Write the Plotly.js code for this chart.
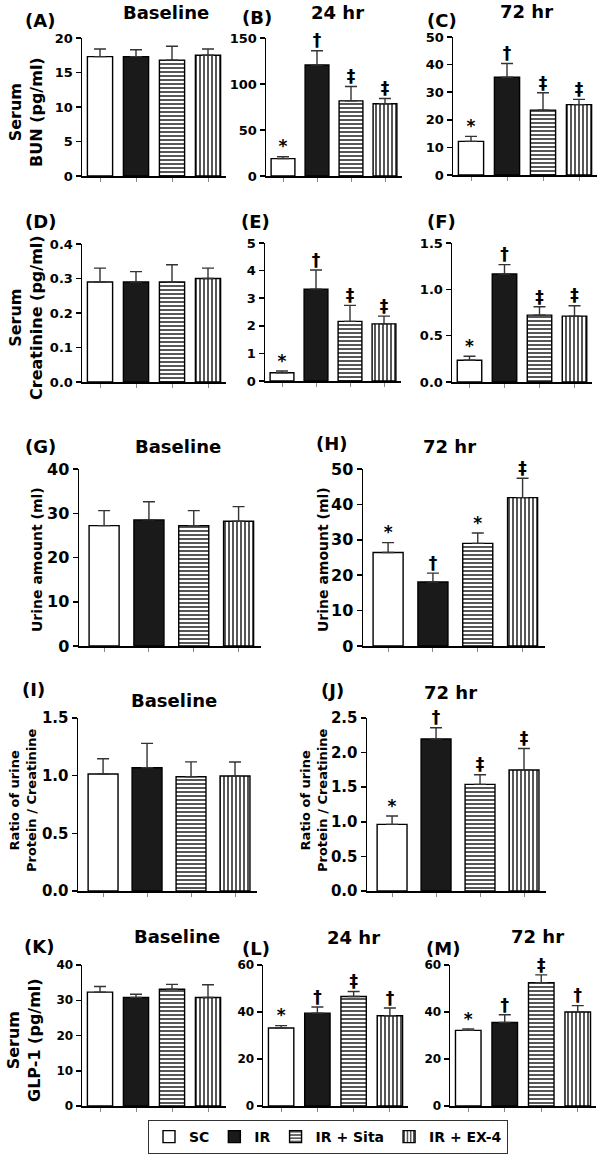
<!DOCTYPE html>
<html>
<head>
<meta charset="utf-8">
<script src="https://cdn.plot.ly/plotly-3.0.1.min.js"></script>
<style>html,body{margin:0;padding:0;background:#fff;}#chart{width:600px;height:1154px;}</style>
</head>
<body>
<div id="chart"></div>
<script>
// ---------- DATA ----------
const groups = ['SC', 'IR', 'IR + Sita', 'IR + EX-4'];

const bunBaseline = [17.3, 17.3, 16.8, 17.5];
const bunBaselineSem = [1.1, 1.0, 2.0, 0.9];
const bun24 = [18.9, 120.6, 81.7, 78.5];
const bun24Sem = [2.1, 15.6, 15.6, 5.8];
const bun72 = [12.2, 35.4, 23.5, 25.5];
const bun72Sem = [1.8, 5.0, 6.3, 1.9];

const creBaseline = [0.29, 0.29, 0.29, 0.30];
const creBaselineSem = [0.04, 0.03, 0.05, 0.03];
const cre24 = [0.30, 3.33, 2.16, 2.07];
const cre24Sem = [0.06, 0.69, 0.58, 0.28];
const cre72 = [0.235, 1.166, 0.722, 0.711];
const cre72Sem = [0.043, 0.101, 0.09, 0.112];

const urineBaseline = [27.2, 28.5, 27.2, 28.2];
const urineBaselineSem = [3.4, 4.1, 3.4, 3.3];
const urine72 = [26.4, 18.1, 29.0, 41.9];
const urine72Sem = [2.8, 2.5, 2.9, 5.5];

const ratioBaseline = [1.014, 1.069, 0.99, 0.997];
const ratioBaselineSem = [0.133, 0.211, 0.13, 0.121];
const ratio72 = [0.963, 2.197, 1.541, 1.749];
const ratio72Sem = [0.121, 0.163, 0.139, 0.311];

const glpBaseline = [32.3, 30.8, 33.1, 30.8];
const glpBaselineSem = [1.6, 0.9, 1.4, 3.6];
const glp24 = [33.2, 39.5, 46.6, 38.4];
const glp24Sem = [1.0, 2.6, 2.1, 3.3];
const glp72 = [32.2, 35.5, 52.5, 40.0];
const glp72Sem = [0.6, 3.3, 3.3, 2.7];

const symNone = ['', '', '', ''];
const symStd = ['*', '\u2020', '\u2021', '\u2021'];
const symUrine72 = ['*', '\u2020', '*', '\u2021'];
const symGlp = ['*', '\u2020', '\u2021', '\u2020'];

// ---------- LAYOUT HELPERS ----------
const W = 600, H = 1154;
const px = x => x / W;
const py = y => 1 - y / H;
const FONT = 'DejaVu Sans';

// panel placement (pixels) and axis setup
const panels = [
  {lab:'(A)', title:'Baseline', mean:bunBaseline, sem:bunBaselineSem, sym:symNone, x:[82,226], y:[38,176], range:[0,20], dtick:5, fmt:'', xr:[-0.5,3.5], tfs:13, bw:0.7},
  {lab:'(B)', title:'24 hr', mean:bun24, sem:bun24Sem, sym:symStd, x:[266,402], y:[38,176], range:[0,150], dtick:50, fmt:'', xr:[-0.5,3.5], tfs:13, bw:0.7},
  {lab:'(C)', title:'72 hr', mean:bun72, sem:bun72Sem, sym:symStd, x:[453,597], y:[37,175], range:[0,50], dtick:10, fmt:'', xr:[-0.5,3.5], tfs:13, bw:0.7},
  {lab:'(D)', title:'', mean:creBaseline, sem:creBaselineSem, sym:symNone, x:[82,226], y:[244,382], range:[0,0.4], dtick:0.1, fmt:'.1f', xr:[-0.5,3.5], tfs:13, bw:0.7},
  {lab:'(E)', title:'', mean:cre24, sem:cre24Sem, sym:symStd, x:[265,401], y:[243,381], range:[0,5], dtick:1, fmt:'', xr:[-0.5,3.5], tfs:13, bw:0.7},
  {lab:'(F)', title:'', mean:cre72, sem:cre72Sem, sym:symStd, x:[452,592], y:[243,382], range:[0,1.5], dtick:0.5, fmt:'.1f', xr:[-0.5,3.5], tfs:13, bw:0.7},
  {lab:'(G)', title:'Baseline', mean:urineBaseline, sem:urineBaselineSem, sym:symNone, x:[79,261], y:[469,646], range:[0,40], dtick:10, fmt:'', xr:[-0.56,3.5], tfs:16, bw:0.67},
  {lab:'(H)', title:'72 hr', mean:urine72, sem:urine72Sem, sym:symUrine72, x:[363,545], y:[469,646], range:[0,50], dtick:10, fmt:'', xr:[-0.56,3.5], tfs:16, bw:0.67},
  {lab:'(I)', title:'Baseline', mean:ratioBaseline, sem:ratioBaselineSem, sym:symNone, x:[78,257], y:[718,891], range:[0,1.5], dtick:0.5, fmt:'.1f', xr:[-0.57,3.5], tfs:15, bw:0.68},
  {lab:'(J)', title:'72 hr', mean:ratio72, sem:ratio72Sem, sym:symStd, x:[367,546], y:[718,891], range:[0,2.5], dtick:0.5, fmt:'.1f', xr:[-0.57,3.5], tfs:15, bw:0.68},
  {lab:'(K)', title:'Baseline', mean:glpBaseline, sem:glpBaselineSem, sym:symNone, x:[82,226], y:[965,1106], range:[0,40], dtick:10, fmt:'', xr:[-0.5,3.5], tfs:12, bw:0.7},
  {lab:'(L)', title:'24 hr', mean:glp24, sem:glp24Sem, sym:symGlp, x:[263,408], y:[965,1106], range:[0,60], dtick:20, fmt:'', xr:[-0.5,3.5], tfs:12, bw:0.7},
  {lab:'(M)', title:'72 hr', mean:glp72, sem:glp72Sem, sym:symGlp, x:[450,596], y:[965,1106], range:[0,60], dtick:20, fmt:'', xr:[-0.5,3.5], tfs:12, bw:0.7}
];

// label / title positions (pixels)
const labelPos = [[40,21],[257,18],[442,21],[40,222],[255,222],[441,222],[40,446],[332,443],[33,689],[332,690],[39,946],[256,948],[443,948]];
const titlePos = [[166,12],[337,12],[526,11],null,null,null,[178,446],[449,446],[174,700],[450,692],[177,936],[353,937],[537,936]];

const fills = ['white', '#1a1a1a', 'white', 'white'];
const patShapes = ['', '', '-', '|'];

const traces = [];
const layout = {
  width: W, height: H,
  margin: {l:0, r:0, t:0, b:0},
  paper_bgcolor: 'white', plot_bgcolor: 'rgba(0,0,0,0)',
  barmode: 'overlay',
  showlegend: true,
  legend: {
    orientation: 'h', x: px(328), y: py(1137), xanchor: 'center', yanchor: 'middle',
    bordercolor: '#333', borderwidth: 1, bgcolor: 'white',
    font: {family: FONT, size: 14, color: 'black', weight: 'bold'},
    traceorder: 'normal', itemwidth: 30
  },
  annotations: [],
  font: {family: FONT, color: 'black'}
};

panels.forEach((p, k) => {
  const s = k === 0 ? '' : String(k + 1);
  const xa = 'x' + s, ya = 'y' + s;
  groups.forEach((g, i) => {
    traces.push({
      type: 'bar', x: [g], y: [p.mean[i]], xaxis: xa, yaxis: ya,
      name: g, legendgroup: g, showlegend: k === 0, width: p.bw,
      marker: {
        color: fills[i],
        line: {color: 'black', width: 1.4},
        pattern: {shape: patShapes[i], fgcolor: 'black', bgcolor: 'white', size: 4, solidity: 0.33, fillmode: 'replace'}
      },
      error_y: {type: 'data', symmetric: false, array: [p.sem[i]], arrayminus: [0], color: '#333', thickness: 1.4, width: 6},
      hoverinfo: 'skip'
    });
  });
  if (p.sym.some(t => t)) {
    traces.push({
      type: 'scatter', mode: 'text', x: groups, y: p.mean.map((m, i) => m + p.sem[i]),
      text: p.sym, textposition: 'top center', xaxis: xa, yaxis: ya,
      textfont: {family: FONT, size: 17, color: 'black', weight: 'bold'},
      cliponaxis: false, showlegend: false, hoverinfo: 'skip'
    });
  }
  layout['xaxis' + s] = {
    domain: [px(p.x[0]), px(p.x[1])], range: p.xr, type: 'category',
    categoryorder: 'array', categoryarray: groups, anchor: ya,
    showline: true, linecolor: 'black', linewidth: 1.5,
    ticks: 'outside', ticklen: 4, tickcolor: '#888', tickwidth: 1,
    showticklabels: false, showgrid: false, zeroline: false, fixedrange: true
  };
  layout['yaxis' + s] = {
    domain: [py(p.y[1]), py(p.y[0])], range: p.range, anchor: xa,
    showline: true, linecolor: 'black', linewidth: 1.5,
    ticks: 'outside', ticklen: 5, tickwidth: 1.5, tickcolor: 'black',
    tick0: 0, dtick: p.dtick, tickformat: p.fmt,
    tickfont: {family: FONT, size: p.tfs, color: 'black', weight: 'bold'},
    showgrid: false, zeroline: false, fixedrange: true
  };
  const lp = labelPos[k];
  layout.annotations.push({text: '<b>' + p.lab + '</b>', x: px(lp[0]), y: py(lp[1]), xref: 'paper', yref: 'paper',
    xanchor: 'center', yanchor: 'middle', showarrow: false, font: {family: FONT, size: 18, color: 'black'}});
  if (p.title) {
    const tp = titlePos[k];
    layout.annotations.push({text: '<b>' + p.title + '</b>', x: px(tp[0]), y: py(tp[1]), xref: 'paper', yref: 'paper',
      xanchor: 'center', yanchor: 'middle', showarrow: false, font: {family: FONT, size: 18, color: 'black'}});
  }
});

// y-axis titles
const yTitles = [
  {t: 'Serum<br>BUN (pg/ml)', x: 26, y: 112, fs: 16},
  {t: 'Serum<br>Creatinine (pg/ml)', x: 26, y: 318, fs: 16},
  {t: 'Urine amount (ml)', x: 37, y: 560, fs: 14},
  {t: 'Urine amount (ml)', x: 323, y: 560, fs: 14},
  {t: 'Ratio of urine<br>Protein / Creatinine', x: 23, y: 800, fs: 13},
  {t: 'Ratio of urine<br>Protein / Creatinine', x: 314, y: 800, fs: 13},
  {t: 'Serum<br>GLP-1 (pg/ml)', x: 24, y: 1040, fs: 16}
];
yTitles.forEach(a => {
  layout.annotations.push({text: '<b>' + a.t + '</b>', x: px(a.x), y: py(a.y), xref: 'paper', yref: 'paper',
    xanchor: 'center', yanchor: 'middle', textangle: -90, showarrow: false,
    font: {family: FONT, size: a.fs, color: 'black'}});
});

Plotly.newPlot('chart', traces, layout, {staticPlot: true, displayModeBar: false});
</script>
</body>
</html>
